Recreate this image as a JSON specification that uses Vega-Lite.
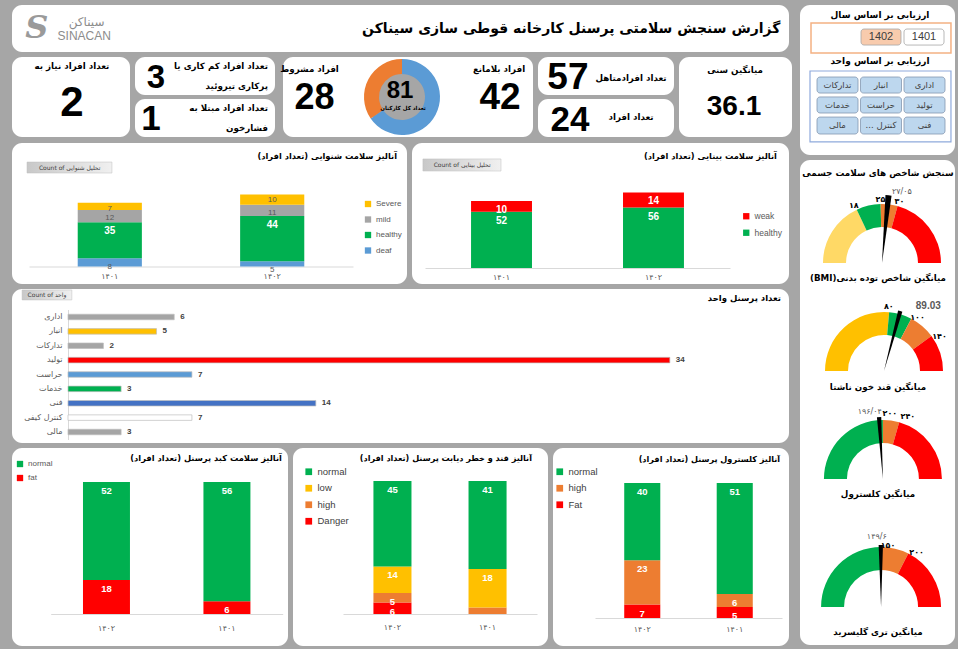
{
"$schema":"https://vega.github.io/schema/vega-lite/v6.json",
"background":"#A6A6A6",
"padding":{"left":12,"top":5,"right":6,"bottom":4},
"config":{"view":{"fill":"#FFFFFF","stroke":null,"cornerRadius":10},"font":"DejaVu Sans"},
"datasets":{
"kpi":[
{"key":"need","metric":"تعداد افراد نیاز به","value":2},
{"key":"thyroid","metric":"تعداد افراد کم کاری یا\nپرکاری تیروئید","value":3},
{"key":"bp","metric":"تعداد افراد مبتلا به\nفشارخون","value":1},
{"key":"conditional","metric":"افراد مشروط","value":28},
{"key":"total","metric":"تعداد کل کارکنان","value":81},
{"key":"fit","metric":"افراد بلامانع","value":42},
{"key":"married","metric":"تعداد افرادمتاهل","value":57},
{"key":"single","metric":"تعداد افراد","value":24},
{"key":"age","metric":"میانگین سنی","value":36.1}],
"donut":[{"status":"سایر","count":53},{"status":"مشروط","count":28}],
"hearing":[
{"year":"۱۴۰۱","status":"deaf","count":8},{"year":"۱۴۰۱","status":"healthy","count":35},{"year":"۱۴۰۱","status":"mild","count":12},{"year":"۱۴۰۱","status":"Severe","count":7},
{"year":"۱۴۰۲","status":"deaf","count":5},{"year":"۱۴۰۲","status":"healthy","count":44},{"year":"۱۴۰۲","status":"mild","count":11},{"year":"۱۴۰۲","status":"Severe","count":10}],
"vision":[{"year":"۱۴۰۱","status":"healthy","count":52},{"year":"۱۴۰۱","status":"weak","count":10},{"year":"۱۴۰۲","status":"healthy","count":56},{"year":"۱۴۰۲","status":"weak","count":14}],
"units":[{"unit":"اداری","count":6},{"unit":"انبار","count":5},{"unit":"تدارکات","count":2},{"unit":"تولید","count":34},{"unit":"حراست","count":7},{"unit":"خدمات","count":3},{"unit":"فنی","count":14},{"unit":"کنترل کیفی","count":7},{"unit":"مالی","count":3}],
"liver":[{"year":"۱۴۰۲","status":"fat","count":18},{"year":"۱۴۰۲","status":"normal","count":52},{"year":"۱۴۰۱","status":"fat","count":6},{"year":"۱۴۰۱","status":"normal","count":56}],
"sugar":[{"year":"۱۴۰۲","status":"Danger","count":6},{"year":"۱۴۰۲","status":"high","count":5},{"year":"۱۴۰۲","status":"low","count":14},{"year":"۱۴۰۲","status":"normal","count":45},{"year":"۱۴۰۱","status":"high","count":3},{"year":"۱۴۰۱","status":"low","count":18},{"year":"۱۴۰۱","status":"normal","count":41}],
"chol":[{"year":"۱۴۰۲","status":"Fat","count":7},{"year":"۱۴۰۲","status":"high","count":23},{"year":"۱۴۰۲","status":"normal","count":40},{"year":"۱۴۰۱","status":"Fat","count":5},{"year":"۱۴۰۱","status":"high","count":6},{"year":"۱۴۰۱","status":"normal","count":51}],
"years":[{"year":"1402"},{"year":"1401"}],
"gbands":[
{"gauge":"BMI","level":"underweight","from":0,"to":18},{"gauge":"BMI","level":"normal","from":18,"to":25},{"gauge":"BMI","level":"overweight","from":25,"to":30},{"gauge":"BMI","level":"obese","from":30,"to":52},
{"gauge":"sugar","level":"low","from":40,"to":80},{"gauge":"sugar","level":"normal","from":80,"to":100},{"gauge":"sugar","level":"high","from":100,"to":140},{"gauge":"sugar","level":"danger","from":140,"to":200},
{"gauge":"chol","level":"normal","from":100,"to":200},{"gauge":"chol","level":"high","from":200,"to":240},{"gauge":"chol","level":"danger","from":240,"to":300},
{"gauge":"trig","level":"normal","from":0,"to":150},{"gauge":"trig","level":"high","from":150,"to":200},{"gauge":"trig","level":"danger","from":200,"to":300}],
"gneedle":[{"gauge":"BMI","value":27.05,"label":"۲۷/۰۵"},{"gauge":"sugar","value":89.03,"label":"89.03"},{"gauge":"chol","value":196.04,"label":"۱۹۶/۰۴"},{"gauge":"trig","value":149.6,"label":"۱۴۹/۶"}],
"gticks":[{"gauge":"BMI","value":18,"label":"۱۸"},{"gauge":"BMI","value":25,"label":"۲۵"},{"gauge":"BMI","value":30,"label":"۳۰"},
{"gauge":"sugar","value":80,"label":"۸۰"},{"gauge":"sugar","value":100,"label":"۱۰۰"},{"gauge":"sugar","value":140,"label":"۱۴۰"},
{"gauge":"chol","value":200,"label":"۲۰۰"},{"gauge":"chol","value":240,"label":"۲۴۰"},
{"gauge":"trig","value":150,"label":"۱۵۰"},{"gauge":"trig","value":200,"label":"۲۰۰"}]
},
"spacing":8,
"resolve":{"scale":{"color":"independent"}},
"hconcat":[
{"vconcat":[
{"width":777,"height":47,"layer":[
{"data":{"values":[{}]},"mark":{"type":"text","text":"گزارش سنجش سلامتی پرسنل کارخانه قوطی سازی سیناکن","align":"right","fontSize":14,"fontWeight":"bold","color":"#000000"},"encoding":{"x":{"datum":98.9,"type":"quantitative","scale":{"domain":[0,100]},"axis":null},"y":{"datum":50,"type":"quantitative","scale":{"domain":[0,100],"reverse":true},"axis":null}}},
{"data":{"values":[{}]},"mark":{"type":"text","text":"S","font":"DejaVu Serif","fontSize":32,"fontWeight":"bold","fontStyle":"italic","color":"#9A9A9A"},"encoding":{"x":{"datum":3.2,"type":"quantitative","scale":{"domain":[0,100]},"axis":null},"y":{"datum":48,"type":"quantitative","scale":{"domain":[0,100],"reverse":true},"axis":null}}},
{"data":{"values":[{}]},"mark":{"type":"text","text":"سیناکن","fontSize":12,"color":"#8C8C8C"},"encoding":{"x":{"datum":9.6,"type":"quantitative","scale":{"domain":[0,100]},"axis":null},"y":{"datum":36,"type":"quantitative","scale":{"domain":[0,100],"reverse":true},"axis":null}}},
{"data":{"values":[{}]},"mark":{"type":"text","text":"SINACAN","font":"Liberation Sans","fontSize":12,"color":"#8C8C8C"},"encoding":{"x":{"datum":9.3,"type":"quantitative","scale":{"domain":[0,100]},"axis":null},"y":{"datum":66,"type":"quantitative","scale":{"domain":[0,100],"reverse":true},"axis":null}}}
]},
{"hconcat":[
{"width":118,"height":80,"data":{"name":"kpi"},"transform":[{"filter":"datum.key==='need'"}],"layer":[
{"mark":{"type":"text","fontSize":8.7,"fontWeight":"bold","color":"#000000"},"encoding":{"text":{"field":"metric","type":"nominal"},"x":{"datum":50.8,"type":"quantitative","scale":{"domain":[0,100]},"axis":null},"y":{"datum":11.5,"type":"quantitative","scale":{"domain":[0,100],"reverse":true},"axis":null}}},
{"mark":{"type":"text","fontSize":42,"fontWeight":"bold","font":"Liberation Sans","color":"#000000"},"encoding":{"text":{"field":"value","type":"nominal"},"x":{"datum":50.8,"type":"quantitative","scale":{"domain":[0,100]},"axis":null},"y":{"datum":58,"type":"quantitative","scale":{"domain":[0,100],"reverse":true},"axis":null}}}
]},
{"vconcat":[
{"width":140,"height":38,"data":{"name":"kpi"},"transform":[{"filter":"datum.key==='thyroid'"}],"layer":[
{"mark":{"type":"text","align":"right","fontSize":8.7,"fontWeight":"bold","lineBreak":"\n","lineHeight":20,"color":"#000000"},"encoding":{"text":{"field":"metric","type":"nominal"},"x":{"datum":95,"type":"quantitative","scale":{"domain":[0,100]},"axis":null},"y":{"datum":24,"type":"quantitative","scale":{"domain":[0,100],"reverse":true},"axis":null}}},
{"mark":{"type":"text","fontSize":33,"fontWeight":"bold","font":"Liberation Sans","color":"#000000"},"encoding":{"text":{"field":"value","type":"nominal"},"x":{"datum":15,"type":"quantitative","scale":{"domain":[0,100]},"axis":null},"y":{"datum":55,"type":"quantitative","scale":{"domain":[0,100],"reverse":true},"axis":null}}}
]},
{"width":140,"height":38,"data":{"name":"kpi"},"transform":[{"filter":"datum.key==='bp'"}],"layer":[
{"mark":{"type":"text","align":"right","fontSize":8.7,"fontWeight":"bold","lineBreak":"\n","lineHeight":20,"color":"#000000"},"encoding":{"text":{"field":"metric","type":"nominal"},"x":{"datum":95,"type":"quantitative","scale":{"domain":[0,100]},"axis":null},"y":{"datum":24,"type":"quantitative","scale":{"domain":[0,100],"reverse":true},"axis":null}}},
{"mark":{"type":"text","fontSize":35,"fontWeight":"bold","font":"Liberation Sans","color":"#000000"},"encoding":{"text":{"field":"value","type":"nominal"},"x":{"datum":11.4,"type":"quantitative","scale":{"domain":[0,100]},"axis":null},"y":{"datum":53,"type":"quantitative","scale":{"domain":[0,100],"reverse":true},"axis":null}}}
]}
],"spacing":4,"bounds":"flush"},
{"width":250,"height":80,"layer":[
{"data":{"name":"kpi"},"transform":[{"filter":"datum.key==='conditional'"}],"layer":[
{"mark":{"type":"text","fontSize":8.7,"fontWeight":"bold","color":"#000000"},"encoding":{"text":{"field":"metric","type":"nominal"},"x":{"datum":10.6,"type":"quantitative","scale":{"domain":[0,100]},"axis":null},"y":{"datum":15,"type":"quantitative","scale":{"domain":[0,100],"reverse":true},"axis":null}}},
{"mark":{"type":"text","fontSize":36,"fontWeight":"bold","font":"Liberation Sans","color":"#000000"},"encoding":{"text":{"field":"value","type":"nominal"},"x":{"datum":12.6,"type":"quantitative","scale":{"domain":[0,100]},"axis":null},"y":{"datum":51.5,"type":"quantitative","scale":{"domain":[0,100],"reverse":true},"axis":null}}}]},
{"data":{"name":"kpi"},"transform":[{"filter":"datum.key==='fit'"}],"layer":[
{"mark":{"type":"text","fontSize":8.7,"fontWeight":"bold","color":"#000000"},"encoding":{"text":{"field":"metric","type":"nominal"},"x":{"datum":86.4,"type":"quantitative","scale":{"domain":[0,100]},"axis":null},"y":{"datum":15,"type":"quantitative","scale":{"domain":[0,100],"reverse":true},"axis":null}}},
{"mark":{"type":"text","fontSize":37,"fontWeight":"bold","font":"Liberation Sans","color":"#000000"},"encoding":{"text":{"field":"value","type":"nominal"},"x":{"datum":86.8,"type":"quantitative","scale":{"domain":[0,100]},"axis":null},"y":{"datum":51.5,"type":"quantitative","scale":{"domain":[0,100],"reverse":true},"axis":null}}}]},
{"data":{"values":[{}]},"mark":{"type":"circle","size":5027,"color":"#A6A6A6","opacity":1},"encoding":{"x":{"datum":47.6,"type":"quantitative","scale":{"domain":[0,100]},"axis":null},"y":{"datum":50,"type":"quantitative","scale":{"domain":[0,100],"reverse":true},"axis":null}}},
{"data":{"name":"donut"},"transform":[{"window":[{"op":"row_number","as":"idx"}]}],"mark":{"type":"arc","outerRadius":38,"innerRadius":23},"encoding":{"theta":{"field":"count","type":"quantitative","stack":true},"order":{"field":"idx","type":"quantitative"},"color":{"field":"status","type":"nominal","scale":{"domain":["سایر","مشروط"],"range":["#5B9BD5","#ED7D31"]},"legend":null},"x":{"datum":47.6,"type":"quantitative","scale":{"domain":[0,100]},"axis":null},"y":{"datum":50,"type":"quantitative","scale":{"domain":[0,100],"reverse":true},"axis":null}}},
{"data":{"name":"kpi"},"transform":[{"filter":"datum.key==='total'"}],"layer":[
{"mark":{"type":"text","fontSize":24,"fontWeight":"bold","font":"Liberation Sans","color":"#000000"},"encoding":{"text":{"field":"value","type":"nominal"},"x":{"datum":46.8,"type":"quantitative","scale":{"domain":[0,100]},"axis":null},"y":{"datum":43,"type":"quantitative","scale":{"domain":[0,100],"reverse":true},"axis":null}}},
{"mark":{"type":"text","fontSize":5.5,"fontWeight":"bold","color":"#000000"},"encoding":{"text":{"field":"metric","type":"nominal"},"x":{"datum":48,"type":"quantitative","scale":{"domain":[0,100]},"axis":null},"y":{"datum":64,"type":"quantitative","scale":{"domain":[0,100],"reverse":true},"axis":null}}}]}
]},
{"vconcat":[
{"width":136,"height":38,"data":{"name":"kpi"},"transform":[{"filter":"datum.key==='married'"}],"layer":[
{"mark":{"type":"text","fontSize":8.7,"fontWeight":"bold","color":"#000000"},"encoding":{"text":{"field":"metric","type":"nominal"},"x":{"datum":68.4,"type":"quantitative","scale":{"domain":[0,100]},"axis":null},"y":{"datum":55.3,"type":"quantitative","scale":{"domain":[0,100],"reverse":true},"axis":null}}},
{"mark":{"type":"text","fontSize":37,"fontWeight":"bold","font":"Liberation Sans","color":"#000000"},"encoding":{"text":{"field":"value","type":"nominal"},"x":{"datum":22,"type":"quantitative","scale":{"domain":[0,100]},"axis":null},"y":{"datum":54,"type":"quantitative","scale":{"domain":[0,100],"reverse":true},"axis":null}}}]},
{"width":136,"height":38,"data":{"name":"kpi"},"transform":[{"filter":"datum.key==='single'"}],"layer":[
{"mark":{"type":"text","fontSize":8.7,"fontWeight":"bold","color":"#000000"},"encoding":{"text":{"field":"metric","type":"nominal"},"x":{"datum":68.4,"type":"quantitative","scale":{"domain":[0,100]},"axis":null},"y":{"datum":47.4,"type":"quantitative","scale":{"domain":[0,100],"reverse":true},"axis":null}}},
{"mark":{"type":"text","fontSize":35,"fontWeight":"bold","font":"Liberation Sans","color":"#000000"},"encoding":{"text":{"field":"value","type":"nominal"},"x":{"datum":23.5,"type":"quantitative","scale":{"domain":[0,100]},"axis":null},"y":{"datum":54,"type":"quantitative","scale":{"domain":[0,100],"reverse":true},"axis":null}}}]}
],"spacing":4,"bounds":"flush"},
{"width":113,"height":80,"data":{"name":"kpi"},"transform":[{"filter":"datum.key==='age'"}],"layer":[
{"mark":{"type":"text","fontSize":8.7,"fontWeight":"bold","color":"#000000"},"encoding":{"text":{"field":"metric","type":"nominal"},"x":{"datum":49.6,"type":"quantitative","scale":{"domain":[0,100]},"axis":null},"y":{"datum":16.25,"type":"quantitative","scale":{"domain":[0,100],"reverse":true},"axis":null}}},
{"mark":{"type":"text","fontSize":28,"fontWeight":"bold","font":"Liberation Sans","color":"#000000"},"encoding":{"text":{"field":"value","type":"nominal"},"x":{"datum":48.7,"type":"quantitative","scale":{"domain":[0,100]},"axis":null},"y":{"datum":62.5,"type":"quantitative","scale":{"domain":[0,100],"reverse":true},"axis":null}}}]}
],"spacing":5,"resolve":{"scale":{"color":"independent"}}},
{"hconcat":[
{"width":395,"height":141,"resolve":{"scale":{"x":"independent","y":"independent"}},"layer":[
{"data":{"name":"hearing"},"transform":[{"window":[{"op":"row_number","as":"idx"}]}],
"encoding":{
"x":{"field":"year","type":"nominal","scale":{"domain":["۱۴۰۱","۱۴۰۲"],"range":[17,341],"paddingInner":0.605,"paddingOuter":0.3},"axis":{"title":null,"offset":-17.5,"ticks":false,"tickSize":0,"labelPadding":6,"labelFontSize":8,"labelColor":"#595959","domainColor":"#D9D9D9","labelAngle":0}},
"y":{"field":"count","type":"quantitative","stack":"zero","scale":{"domain":[-17,120],"nice":false,"zero":false},"axis":null},
"order":{"field":"idx","type":"quantitative"},
"detail":{"field":"status","type":"nominal"}},
"layer":[
{"mark":{"type":"bar"},"encoding":{"color":{"field":"status","type":"nominal","scale":{"domain":["Severe","mild","healthy","deaf"],"range":["#FFC000","#A5A5A5","#00B050","#5B9BD5"]},"legend":{"title":null,"orient":"none","legendX":352,"legendY":57,"symbolType":"square","symbolSize":40,"labelFont":"Liberation Sans","labelFontSize":8,"labelColor":"#595959","rowPadding":7.5}}}},
{"mark":{"type":"text","dy":9,"fontSize":10,"fontWeight":"bold","color":"#FFFFFF","font":"Liberation Sans"},"encoding":{"text":{"condition":{"test":"datum.status!=='healthy'","value":""},"field":"count","type":"quantitative"}}},
{"mark":{"type":"text","dy":6,"fontSize":8,"color":"#595959","font":"Liberation Sans"},"encoding":{"text":{"condition":{"test":"datum.status!=='Severe'","value":""},"field":"count","type":"quantitative"}}},
{"mark":{"type":"text","dy":8.5,"fontSize":8,"color":"#595959","font":"Liberation Sans"},"encoding":{"text":{"condition":{"test":"datum.status==='healthy' || datum.status==='Severe'","value":""},"field":"count","type":"quantitative"}}}
]},
{"data":{"values":[{}]},"mark":{"type":"text","text":"‫آنالیز سلامت شنوایی (تعداد افراد)‬","align":"right","fontSize":8.3,"fontWeight":"bold","color":"#000000"},"encoding":{"x":{"datum":97.47,"type":"quantitative","scale":{"domain":[0,100]},"axis":null},"y":{"datum":9.93,"type":"quantitative","scale":{"domain":[0,100],"reverse":true},"axis":null}}},
{"data":{"values":[{}]},"mark":{"type":"rect","fill":{"gradient":"linear","x1":0,"y1":0,"x2":1,"y2":0,"stops":[{"offset":0,"color":"#C8C8C8"},{"offset":1,"color":"#F0F0F0"}]},"stroke":"#BFBFBF","strokeWidth":0.5},"encoding":{"x":{"datum":3.8,"type":"quantitative","scale":{"domain":[0,100]},"axis":null},"x2":{"datum":25.3},"y":{"datum":13.5,"type":"quantitative","scale":{"domain":[0,100],"reverse":true},"axis":null},"y2":{"datum":21.3}}},
{"data":{"values":[{}]},"mark":{"type":"text","text":"Count of تحلیل شنوایی","fontSize":6,"color":"#404040"},"encoding":{"x":{"datum":14.6,"type":"quantitative","scale":{"domain":[0,100]},"axis":null},"y":{"datum":17.4,"type":"quantitative","scale":{"domain":[0,100],"reverse":true},"axis":null}}}
]},
{"width":377,"height":141,"resolve":{"scale":{"x":"independent","y":"independent"}},"layer":[
{"data":{"name":"vision"},"transform":[{"window":[{"op":"row_number","as":"idx"}]}],
"encoding":{
"x":{"field":"year","type":"nominal","scale":{"domain":["۱۴۰۱","۱۴۰۲"],"range":[13,318],"paddingInner":0.599,"paddingOuter":0.303},"axis":{"title":null,"offset":-16,"ticks":false,"tickSize":0,"labelPadding":5,"labelFontSize":8,"labelColor":"#595959","domainColor":"#D9D9D9","labelAngle":0}},
"y":{"field":"count","type":"quantitative","stack":"zero","scale":{"domain":[-14.8,115.7],"nice":false,"zero":false},"axis":null},
"order":{"field":"idx","type":"quantitative"},
"detail":{"field":"status","type":"nominal"}},
"layer":[
{"mark":{"type":"bar"},"encoding":{"color":{"field":"status","type":"nominal","scale":{"domain":["weak","healthy"],"range":["#FF0000","#00B050"]},"legend":{"title":null,"orient":"none","legendX":330,"legendY":69,"symbolType":"square","symbolSize":40,"labelFont":"Liberation Sans","labelFontSize":8.5,"labelColor":"#595959","rowPadding":7.5}}}},
{"mark":{"type":"text","dy":9,"fontSize":10,"fontWeight":"bold","color":"#FFFFFF","font":"Liberation Sans"},"encoding":{"text":{"field":"count","type":"quantitative"}}}
]},
{"data":{"values":[{}]},"mark":{"type":"text","text":"‫آنالیز سلامت بینایی (تعداد افراد)‬","align":"right","fontSize":8.3,"fontWeight":"bold","color":"#000000"},"encoding":{"x":{"datum":96.8,"type":"quantitative","scale":{"domain":[0,100]},"axis":null},"y":{"datum":9.93,"type":"quantitative","scale":{"domain":[0,100],"reverse":true},"axis":null}}},
{"data":{"values":[{}]},"mark":{"type":"rect","fill":{"gradient":"linear","x1":0,"y1":0,"x2":1,"y2":0,"stops":[{"offset":0,"color":"#C8C8C8"},{"offset":1,"color":"#F0F0F0"}]},"stroke":"#BFBFBF","strokeWidth":0.5},"encoding":{"x":{"datum":2.9,"type":"quantitative","scale":{"domain":[0,100]},"axis":null},"x2":{"datum":23.6},"y":{"datum":11.3,"type":"quantitative","scale":{"domain":[0,100],"reverse":true},"axis":null},"y2":{"datum":19.9}}},
{"data":{"values":[{}]},"mark":{"type":"text","text":"Count of تحلیل بینایی","fontSize":6,"color":"#404040"},"encoding":{"x":{"datum":13.3,"type":"quantitative","scale":{"domain":[0,100]},"axis":null},"y":{"datum":15.6,"type":"quantitative","scale":{"domain":[0,100],"reverse":true},"axis":null}}}
]}
],"spacing":5,"bounds":"flush","resolve":{"scale":{"color":"independent"}}},
{"width":777,"height":154,"resolve":{"scale":{"x":"independent","y":"independent"}},"layer":[
{"data":{"name":"units"},
"encoding":{
"y":{"field":"unit","type":"nominal","scale":{"domain":["اداری","انبار","تدارکات","تولید","حراست","خدمات","فنی","کنترل کیفی","مالی"],"range":[20.5,150.5],"paddingInner":0.617,"paddingOuter":0.33},"axis":{"title":null,"offset":-56,"ticks":false,"tickSize":0,"labelPadding":6,"labelFontSize":8,"labelColor":"#595959","domainColor":"#D9D9D9"}},
"x":{"field":"count","type":"quantitative","scale":{"domain":[-3.164,40.73],"nice":false,"zero":false},"axis":null}},
"layer":[
{"mark":{"type":"bar","stroke":"#BFBFBF","strokeWidth":0.7},"encoding":{"color":{"field":"unit","type":"nominal","scale":{"domain":["اداری","انبار","تدارکات","تولید","حراست","خدمات","فنی","کنترل کیفی","مالی"],"range":["#A5A5A5","#FFC000","#A5A5A5","#FF0000","#5B9BD5","#00B050","#4472C4","#FFFFFF","#A5A5A5"]},"legend":null}}},
{"mark":{"type":"text","align":"left","dx":6,"fontSize":8,"fontWeight":"bold","color":"#404040","font":"Liberation Sans"},"encoding":{"text":{"field":"count","type":"quantitative"}}}
]},
{"data":{"values":[{}]},"mark":{"type":"text","text":"تعداد پرسنل واحد","align":"right","fontSize":8.5,"fontWeight":"bold","color":"#000000"},"encoding":{"x":{"datum":98.97,"type":"quantitative","scale":{"domain":[0,100]},"axis":null},"y":{"datum":5.6,"type":"quantitative","scale":{"domain":[0,100],"reverse":true},"axis":null}}},
{"data":{"values":[{}]},"mark":{"type":"rect","fill":{"gradient":"linear","x1":0,"y1":0,"x2":1,"y2":0,"stops":[{"offset":0,"color":"#C8C8C8"},{"offset":1,"color":"#F0F0F0"}]},"stroke":"#BFBFBF","strokeWidth":0.5},"encoding":{"x":{"datum":1.3,"type":"quantitative","scale":{"domain":[0,100]},"axis":null},"x2":{"datum":7.7},"y":{"datum":0.6,"type":"quantitative","scale":{"domain":[0,100],"reverse":true},"axis":null},"y2":{"datum":7.1}}},
{"data":{"values":[{}]},"mark":{"type":"text","text":"Count of واحد","fontSize":6,"color":"#404040"},"encoding":{"x":{"datum":4.5,"type":"quantitative","scale":{"domain":[0,100]},"axis":null},"y":{"datum":3.9,"type":"quantitative","scale":{"domain":[0,100],"reverse":true},"axis":null}}}
]},
{"hconcat":[
{"width":276,"height":198,"resolve":{"scale":{"x":"independent","y":"independent"}},"layer":[
{"data":{"name":"liver"},"transform":[{"window":[{"op":"row_number","as":"idx"}]}],
"encoding":{
"x":{"field":"year","type":"nominal","scale":{"domain":["۱۴۰۲","۱۴۰۱"],"range":[38.7,270.7],"paddingInner":0.61,"paddingOuter":0.268},"axis":{"title":null,"offset":-32,"ticks":false,"tickSize":0,"labelPadding":10,"labelFontSize":8,"labelColor":"#595959","domainColor":"#D9D9D9","labelAngle":0}},
"y":{"field":"count","type":"quantitative","stack":"normalize","scale":{"domain":[-0.2424,1.2576],"nice":false,"zero":false},"axis":null},
"order":{"field":"idx","type":"quantitative"},
"detail":{"field":"status","type":"nominal"}},
"layer":[
{"mark":{"type":"bar"},"encoding":{"color":{"field":"status","type":"nominal","scale":{"domain":["normal","fat"],"range":["#00B050","#FF0000"]},"legend":{"title":null,"orient":"none","legendX":4,"legendY":12,"symbolType":"square","symbolSize":40,"labelFont":"Liberation Sans","labelFontSize":8,"labelColor":"#595959","rowPadding":6}}}},
{"mark":{"type":"text","dy":9,"fontSize":9.5,"fontWeight":"bold","color":"#FFFFFF","font":"Liberation Sans"},"encoding":{"text":{"field":"count","type":"quantitative"}}}
]},
{"data":{"values":[{}]},"mark":{"type":"text","text":"‫آنالیز سلامت کبد پرسنل (تعداد افراد)‬","align":"right","fontSize":8.3,"fontWeight":"bold","color":"#000000"},"encoding":{"x":{"datum":97.8,"type":"quantitative","scale":{"domain":[0,100]},"axis":null},"y":{"datum":5.6,"type":"quantitative","scale":{"domain":[0,100],"reverse":true},"axis":null}}}
]},
{"width":255,"height":198,"resolve":{"scale":{"x":"independent","y":"independent"}},"layer":[
{"data":{"name":"sugar"},"transform":[{"window":[{"op":"row_number","as":"idx"}]}],
"encoding":{
"x":{"field":"year","type":"nominal","scale":{"domain":["۱۴۰۲","۱۴۰۱"],"range":[50,244],"paddingInner":0.6,"paddingOuter":0.32},"axis":{"title":null,"offset":-32,"ticks":false,"tickSize":0,"labelPadding":9.5,"labelFontSize":8,"labelColor":"#595959","domainColor":"#D9D9D9","labelAngle":0}},
"y":{"field":"count","type":"quantitative","stack":"normalize","scale":{"domain":[-0.2406,1.2481],"nice":false,"zero":false},"axis":null},
"order":{"field":"idx","type":"quantitative"},
"detail":{"field":"status","type":"nominal"}},
"layer":[
{"mark":{"type":"bar"},"encoding":{"color":{"field":"status","type":"nominal","scale":{"domain":["normal","low","high","Danger"],"range":["#00B050","#FFC000","#ED7D31","#FF0000"]},"legend":{"title":null,"orient":"none","legendX":11,"legendY":19,"symbolType":"square","symbolSize":45,"labelFont":"Liberation Sans","labelFontSize":9.5,"labelColor":"#404040","rowPadding":5.5}}}},
{"mark":{"type":"text","dy":9,"fontSize":9.5,"fontWeight":"bold","color":"#FFFFFF","font":"Liberation Sans"},"encoding":{"text":{"condition":{"test":"datum.count<4","value":""},"field":"count","type":"quantitative"}}}
]},
{"data":{"values":[{}]},"mark":{"type":"text","text":"‫آنالیز قند و خطر دیابت پرسنل (تعداد افراد)‬","align":"right","fontSize":8.1,"fontWeight":"bold","color":"#000000"},"encoding":{"x":{"datum":93.7,"type":"quantitative","scale":{"domain":[0,100]},"axis":null},"y":{"datum":5.6,"type":"quantitative","scale":{"domain":[0,100],"reverse":true},"axis":null}}}
]},
{"width":236,"height":198,"resolve":{"scale":{"x":"independent","y":"independent"}},"layer":[
{"data":{"name":"chol"},"transform":[{"window":[{"op":"row_number","as":"idx"}]}],
"encoding":{
"x":{"field":"year","type":"nominal","scale":{"domain":["۱۴۰۲","۱۴۰۱"],"range":[42,229],"paddingInner":0.61,"paddingOuter":0.316},"axis":{"title":null,"offset":-28,"ticks":false,"tickSize":0,"labelPadding":7,"labelFontSize":8,"labelColor":"#595959","domainColor":"#D9D9D9","labelAngle":0}},
"y":{"field":"count","type":"quantitative","stack":"normalize","scale":{"domain":[-0.2074,1.2593],"nice":false,"zero":false},"axis":null},
"order":{"field":"idx","type":"quantitative"},
"detail":{"field":"status","type":"nominal"}},
"layer":[
{"mark":{"type":"bar"},"encoding":{"color":{"field":"status","type":"nominal","scale":{"domain":["normal","high","Fat"],"range":["#00B050","#ED7D31","#FF0000"]},"legend":{"title":null,"orient":"none","legendX":2,"legendY":19,"symbolType":"square","symbolSize":45,"labelFont":"Liberation Sans","labelFontSize":9.5,"labelColor":"#404040","rowPadding":5.5}}}},
{"mark":{"type":"text","dy":9,"fontSize":9.5,"fontWeight":"bold","color":"#FFFFFF","font":"Liberation Sans"},"encoding":{"text":{"field":"count","type":"quantitative"}}}
]},
{"data":{"values":[{}]},"mark":{"type":"text","text":"‫آنالیز کلسترول پرسنل (تعداد افراد)‬","align":"right","fontSize":8.1,"fontWeight":"bold","color":"#000000"},"encoding":{"x":{"datum":96.2,"type":"quantitative","scale":{"domain":[0,100]},"axis":null},"y":{"datum":6.06,"type":"quantitative","scale":{"domain":[0,100],"reverse":true},"axis":null}}}
]}
],"spacing":5,"bounds":"flush","resolve":{"scale":{"color":"independent"}}}
],"spacing":5,"resolve":{"scale":{"color":"independent"}}},
{"vconcat":[
{"width":155,"height":150,"resolve":{"scale":{"x":"independent"}},"layer":[
{"data":{"values":[{}]},"mark":{"type":"text","text":"ارزیابی بر اساس سال","fontSize":9,"fontWeight":"bold","color":"#000000"},"encoding":{"x":{"datum":51.6,"type":"quantitative","scale":{"domain":[0,100]},"axis":null},"y":{"datum":6.7,"type":"quantitative","scale":{"domain":[0,100],"reverse":true},"axis":null}}},
{"data":{"values":[{}]},"mark":{"type":"rect","filled":false,"color":"#F4B183","strokeWidth":1.5},"encoding":{"x":{"datum":7.1,"type":"quantitative","scale":{"domain":[0,100]},"axis":null},"x2":{"datum":97.4},"y":{"datum":12,"type":"quantitative","scale":{"domain":[0,100],"reverse":true},"axis":null},"y2":{"datum":32}}},
{"data":{"name":"years"},"encoding":{"x":{"field":"year","type":"nominal","scale":{"domain":["1402","1401"],"range":[61,144],"paddingInner":0.07,"paddingOuter":0},"axis":null}},"layer":[
{"mark":{"type":"rect","stroke":"#A6A6A6","strokeWidth":0.8,"cornerRadius":3},"encoding":{"y":{"datum":16,"type":"quantitative","scale":{"domain":[0,100],"reverse":true},"axis":null},"y2":{"datum":26.7},"color":{"condition":{"test":"datum.year==='1402'","value":"#F8CBAD"},"value":"#FFFFFF"}}},
{"mark":{"type":"text","fontSize":11,"font":"Liberation Sans","color":"#404040"},"encoding":{"y":{"datum":21.3,"type":"quantitative","scale":{"domain":[0,100],"reverse":true},"axis":null},"text":{"field":"year","type":"nominal"}}}]},
{"data":{"values":[{}]},"mark":{"type":"text","text":"ارزیابی بر اساس واحد","fontSize":9,"fontWeight":"bold","color":"#000000"},"encoding":{"x":{"datum":51.6,"type":"quantitative","scale":{"domain":[0,100]},"axis":null},"y":{"datum":37.3,"type":"quantitative","scale":{"domain":[0,100],"reverse":true},"axis":null}}},
{"data":{"values":[{}]},"mark":{"type":"rect","filled":false,"color":"#8FAADC","strokeWidth":1.2},"encoding":{"x":{"datum":6.45,"type":"quantitative","scale":{"domain":[0,100]},"axis":null},"x2":{"datum":97.4},"y":{"datum":44,"type":"quantitative","scale":{"domain":[0,100],"reverse":true},"axis":null},"y2":{"datum":91.3}}},
{"data":{"name":"units"},"transform":[{"filter":{"field":"unit","oneOf":["تدارکات","انبار","اداری"]}}],"encoding":{"x":{"field":"unit","type":"nominal","scale":{"domain":["تدارکات","انبار","اداری"],"range":[17,145],"paddingInner":0.057,"paddingOuter":0},"axis":null}},"layer":[
{"mark":{"type":"rect","color":"#BDD7EE","stroke":"#8497B0","strokeWidth":0.8,"cornerRadius":3},"encoding":{"y":{"datum":48,"type":"quantitative","scale":{"domain":[0,100],"reverse":true},"axis":null},"y2":{"datum":58.7}}},
{"mark":{"type":"text","fontSize":8.5,"color":"#404040","limit":36,"ellipsis":"...‏"},"encoding":{"y":{"datum":53.3,"type":"quantitative","scale":{"domain":[0,100],"reverse":true},"axis":null},"text":{"field":"unit","type":"nominal"}}}]},
{"data":{"name":"units"},"transform":[{"filter":{"field":"unit","oneOf":["خدمات","حراست","تولید"]}}],"encoding":{"x":{"field":"unit","type":"nominal","scale":{"domain":["خدمات","حراست","تولید"],"range":[17,145],"paddingInner":0.057,"paddingOuter":0},"axis":null}},"layer":[
{"mark":{"type":"rect","color":"#BDD7EE","stroke":"#8497B0","strokeWidth":0.8,"cornerRadius":3},"encoding":{"y":{"datum":61.3,"type":"quantitative","scale":{"domain":[0,100],"reverse":true},"axis":null},"y2":{"datum":72}}},
{"mark":{"type":"text","fontSize":8.5,"color":"#404040","limit":36,"ellipsis":"...‏"},"encoding":{"y":{"datum":66.7,"type":"quantitative","scale":{"domain":[0,100],"reverse":true},"axis":null},"text":{"field":"unit","type":"nominal"}}}]},
{"data":{"name":"units"},"transform":[{"filter":{"field":"unit","oneOf":["مالی","کنترل کیفی","فنی"]}}],"encoding":{"x":{"field":"unit","type":"nominal","scale":{"domain":["مالی","کنترل کیفی","فنی"],"range":[17,145],"paddingInner":0.057,"paddingOuter":0},"axis":null}},"layer":[
{"mark":{"type":"rect","color":"#BDD7EE","stroke":"#8497B0","strokeWidth":0.8,"cornerRadius":3},"encoding":{"y":{"datum":74.7,"type":"quantitative","scale":{"domain":[0,100],"reverse":true},"axis":null},"y2":{"datum":86}}},
{"mark":{"type":"text","fontSize":8.5,"color":"#404040","limit":36,"ellipsis":"...‏"},"encoding":{"y":{"datum":80.3,"type":"quantitative","scale":{"domain":[0,100],"reverse":true},"axis":null},"text":{"field":"unit","type":"nominal"}}}]}
]},
{"width":155,"height":485,"resolve":{"scale":{"theta":"independent"}},"layer":[
{"data":{"values":[{}]},"mark":{"type":"text","text":"سنجش شاخص های سلامت جسمی","fontSize":8.8,"fontWeight":"bold","color":"#000000"},"encoding":{"x":{"datum":50.3,"type":"quantitative","scale":{"domain":[0,100]},"axis":null},"y":{"datum":2.7,"type":"quantitative","scale":{"domain":[0,100],"reverse":true},"axis":null}}},
{"layer":[
{"data":{"name":"gbands"},"transform":[{"filter":"datum.gauge==='BMI'"}],"mark":{"type":"arc","outerRadius":59,"innerRadius":36},"encoding":{"theta":{"field":"from","type":"quantitative","stack":null,"scale":{"type":"linear","domain":[0,18,25,30,52],"range":[-1.5708,-0.4416,-0.0227,0.267,1.5708],"zero":false,"nice":false}},"theta2":{"field":"to"},"color":{"field":"level","type":"nominal","scale":{"domain":["underweight","low","normal","overweight","high","obese","danger"],"range":["#FFD966","#FFC000","#00B050","#ED7D31","#ED7D31","#FF0000","#FF0000"]},"legend":null},"x":{"datum":52.9,"type":"quantitative","scale":{"domain":[0,100]},"axis":null},"y":{"datum":21.24,"type":"quantitative","scale":{"domain":[0,100],"reverse":true},"axis":null}}},
{"data":{"name":"gneedle"},"transform":[{"filter":"datum.gauge==='BMI'"}],"mark":{"type":"arc","outerRadius":68,"innerRadius":0,"thetaOffset":-0.045,"theta2Offset":0.045,"color":"#000000"},"encoding":{"theta":{"field":"value","type":"quantitative","stack":null,"scale":{"type":"linear","domain":[0,18,25,30,52],"range":[-1.5708,-0.4416,-0.0227,0.267,1.5708],"zero":false,"nice":false}},"theta2":{"field":"value"},"x":{"datum":52.9,"type":"quantitative","scale":{"domain":[0,100]},"axis":null},"y":{"datum":21.24,"type":"quantitative","scale":{"domain":[0,100],"reverse":true},"axis":null}}},
{"data":{"name":"gneedle"},"transform":[{"filter":"datum.gauge==='BMI'"}],"mark":{"type":"text","radius":72,"dx":13,"dy":1,"fontSize":8,"color":"#595959"},"encoding":{"theta":{"field":"value","type":"quantitative","stack":null,"scale":{"type":"linear","domain":[0,18,25,30,52],"range":[-1.5708,-0.4416,-0.0227,0.267,1.5708],"zero":false,"nice":false}},"text":{"field":"label","type":"nominal"},"x":{"datum":52.9,"type":"quantitative","scale":{"domain":[0,100]},"axis":null},"y":{"datum":21.24,"type":"quantitative","scale":{"domain":[0,100],"reverse":true},"axis":null}}},
{"data":{"name":"gticks"},"transform":[{"filter":"datum.gauge==='BMI'"}],"mark":{"type":"text","radius":66,"dx":0,"dy":3,"fontSize":8,"fontWeight":"bold","color":"#000000"},"encoding":{"theta":{"field":"value","type":"quantitative","stack":null,"scale":{"type":"linear","domain":[0,18,25,30,52],"range":[-1.5708,-0.4416,-0.0227,0.267,1.5708],"zero":false,"nice":false}},"text":{"field":"label","type":"nominal"},"x":{"datum":52.9,"type":"quantitative","scale":{"domain":[0,100]},"axis":null},"y":{"datum":21.24,"type":"quantitative","scale":{"domain":[0,100],"reverse":true},"axis":null}}},
{"data":{"values":[{}]},"mark":{"type":"text","text":"‫میانگین شاخص توده بدنی(BMI)‬","fontSize":8.7,"fontWeight":"bold","color":"#000000"},"encoding":{"x":{"datum":50.3,"type":"quantitative","scale":{"domain":[0,100]},"axis":null},"y":{"datum":24.3,"type":"quantitative","scale":{"domain":[0,100],"reverse":true},"axis":null}}}
]},
{"layer":[
{"data":{"name":"gbands"},"transform":[{"filter":"datum.gauge==='sugar'"}],"mark":{"type":"arc","outerRadius":59,"innerRadius":36},"encoding":{"theta":{"field":"from","type":"quantitative","stack":null,"scale":{"type":"linear","domain":[40,80,100,140,200],"range":[-1.5708,0.0873,0.48,0.934,1.5708],"zero":false,"nice":false}},"theta2":{"field":"to"},"color":{"field":"level","type":"nominal","scale":{"domain":["underweight","low","normal","overweight","high","obese","danger"],"range":["#FFD966","#FFC000","#00B050","#ED7D31","#ED7D31","#FF0000","#FF0000"]},"legend":null},"x":{"datum":54.2,"type":"quantitative","scale":{"domain":[0,100]},"axis":null},"y":{"datum":43.5,"type":"quantitative","scale":{"domain":[0,100],"reverse":true},"axis":null}}},
{"data":{"name":"gneedle"},"transform":[{"filter":"datum.gauge==='sugar'"}],"mark":{"type":"arc","outerRadius":62,"innerRadius":0,"thetaOffset":-0.035,"theta2Offset":0.035,"color":"#000000"},"encoding":{"theta":{"field":"value","type":"quantitative","stack":null,"scale":{"type":"linear","domain":[40,80,100,140,200],"range":[-1.5708,0.0873,0.48,0.934,1.5708],"zero":false,"nice":false}},"theta2":{"field":"value"},"x":{"datum":54.2,"type":"quantitative","scale":{"domain":[0,100]},"axis":null},"y":{"datum":43.5,"type":"quantitative","scale":{"domain":[0,100],"reverse":true},"axis":null}}},
{"data":{"name":"gneedle"},"transform":[{"filter":"datum.gauge==='sugar'"}],"mark":{"type":"text","radius":70,"dx":26,"dy":3,"fontSize":10,"fontWeight":"bold","font":"Liberation Sans","color":"#595959"},"encoding":{"theta":{"field":"value","type":"quantitative","stack":null,"scale":{"type":"linear","domain":[40,80,100,140,200],"range":[-1.5708,0.0873,0.48,0.934,1.5708],"zero":false,"nice":false}},"text":{"field":"label","type":"nominal"},"x":{"datum":54.2,"type":"quantitative","scale":{"domain":[0,100]},"axis":null},"y":{"datum":43.5,"type":"quantitative","scale":{"domain":[0,100],"reverse":true},"axis":null}}},
{"data":{"name":"gticks"},"transform":[{"filter":"datum.gauge==='sugar' && datum.value===80"}],"mark":{"type":"text","radius":66,"dx":-1,"dy":2,"fontSize":8,"fontWeight":"bold","color":"#000000"},"encoding":{"theta":{"field":"value","type":"quantitative","stack":null,"scale":{"type":"linear","domain":[40,80,100,140,200],"range":[-1.5708,0.0873,0.48,0.934,1.5708],"zero":false,"nice":false}},"text":{"field":"label","type":"nominal"},"x":{"datum":54.2,"type":"quantitative","scale":{"domain":[0,100]},"axis":null},"y":{"datum":43.5,"type":"quantitative","scale":{"domain":[0,100],"reverse":true},"axis":null}}},
{"data":{"name":"gticks"},"transform":[{"filter":"datum.gauge==='sugar' && datum.value>80"}],"mark":{"type":"text","radius":64,"dx":4,"dy":4,"fontSize":8,"fontWeight":"bold","color":"#000000"},"encoding":{"theta":{"field":"value","type":"quantitative","stack":null,"scale":{"type":"linear","domain":[40,80,100,140,200],"range":[-1.5708,0.0873,0.48,0.934,1.5708],"zero":false,"nice":false}},"text":{"field":"label","type":"nominal"},"x":{"datum":54.2,"type":"quantitative","scale":{"domain":[0,100]},"axis":null},"y":{"datum":43.5,"type":"quantitative","scale":{"domain":[0,100],"reverse":true},"axis":null}}},
{"data":{"values":[{}]},"mark":{"type":"text","text":"میانگین قند خون ناشتا","fontSize":8.7,"fontWeight":"bold","color":"#000000"},"encoding":{"x":{"datum":50.3,"type":"quantitative","scale":{"domain":[0,100]},"axis":null},"y":{"datum":46.8,"type":"quantitative","scale":{"domain":[0,100],"reverse":true},"axis":null}}}
]},
{"layer":[
{"data":{"name":"gbands"},"transform":[{"filter":"datum.gauge==='chol'"}],"mark":{"type":"arc","outerRadius":59,"innerRadius":36},"encoding":{"theta":{"field":"from","type":"quantitative","stack":null,"scale":{"type":"linear","domain":[100,200,240,300],"range":[-1.5708,0,0.2793,1.5708],"zero":false,"nice":false}},"theta2":{"field":"to"},"color":{"field":"level","type":"nominal","scale":{"domain":["underweight","low","normal","overweight","high","obese","danger"],"range":["#FFD966","#FFC000","#00B050","#ED7D31","#ED7D31","#FF0000","#FF0000"]},"legend":null},"x":{"datum":53.5,"type":"quantitative","scale":{"domain":[0,100]},"axis":null},"y":{"datum":65.77,"type":"quantitative","scale":{"domain":[0,100],"reverse":true},"axis":null}}},
{"data":{"name":"gneedle"},"transform":[{"filter":"datum.gauge==='chol'"}],"mark":{"type":"arc","outerRadius":62,"innerRadius":0,"thetaOffset":-0.035,"theta2Offset":0.035,"color":"#000000"},"encoding":{"theta":{"field":"value","type":"quantitative","stack":null,"scale":{"type":"linear","domain":[100,200,240,300],"range":[-1.5708,0,0.2793,1.5708],"zero":false,"nice":false}},"theta2":{"field":"value"},"x":{"datum":53.5,"type":"quantitative","scale":{"domain":[0,100]},"axis":null},"y":{"datum":65.77,"type":"quantitative","scale":{"domain":[0,100],"reverse":true},"axis":null}}},
{"data":{"name":"gneedle"},"transform":[{"filter":"datum.gauge==='chol'"}],"mark":{"type":"text","radius":67,"dx":-9,"fontSize":8,"color":"#595959"},"encoding":{"theta":{"field":"value","type":"quantitative","stack":null,"scale":{"type":"linear","domain":[100,200,240,300],"range":[-1.5708,0,0.2793,1.5708],"zero":false,"nice":false}},"text":{"field":"label","type":"nominal"},"x":{"datum":53.5,"type":"quantitative","scale":{"domain":[0,100]},"axis":null},"y":{"datum":65.77,"type":"quantitative","scale":{"domain":[0,100],"reverse":true},"axis":null}}},
{"data":{"name":"gticks"},"transform":[{"filter":"datum.gauge==='chol'"}],"mark":{"type":"text","radius":65,"dx":7,"fontSize":8,"fontWeight":"bold","color":"#000000"},"encoding":{"theta":{"field":"value","type":"quantitative","stack":null,"scale":{"type":"linear","domain":[100,200,240,300],"range":[-1.5708,0,0.2793,1.5708],"zero":false,"nice":false}},"text":{"field":"label","type":"nominal"},"x":{"datum":53.5,"type":"quantitative","scale":{"domain":[0,100]},"axis":null},"y":{"datum":65.77,"type":"quantitative","scale":{"domain":[0,100],"reverse":true},"axis":null}}},
{"data":{"values":[{}]},"mark":{"type":"text","text":"میانگین کلسترول","fontSize":8.7,"fontWeight":"bold","color":"#000000"},"encoding":{"x":{"datum":50.3,"type":"quantitative","scale":{"domain":[0,100]},"axis":null},"y":{"datum":68.9,"type":"quantitative","scale":{"domain":[0,100],"reverse":true},"axis":null}}}
]},
{"layer":[
{"data":{"name":"gbands"},"transform":[{"filter":"datum.gauge==='trig'"}],"mark":{"type":"arc","outerRadius":60,"innerRadius":37},"encoding":{"theta":{"field":"from","type":"quantitative","stack":null,"scale":{"type":"linear","domain":[0,150,200,300],"range":[-1.5708,0,0.4712,1.5708],"zero":false,"nice":false}},"theta2":{"field":"to"},"color":{"field":"level","type":"nominal","scale":{"domain":["underweight","low","normal","overweight","high","obese","danger"],"range":["#FFD966","#FFC000","#00B050","#ED7D31","#ED7D31","#FF0000","#FF0000"]},"legend":null},"x":{"datum":52.3,"type":"quantitative","scale":{"domain":[0,100]},"axis":null},"y":{"datum":92.16,"type":"quantitative","scale":{"domain":[0,100],"reverse":true},"axis":null}}},
{"data":{"name":"gneedle"},"transform":[{"filter":"datum.gauge==='trig'"}],"mark":{"type":"arc","outerRadius":62,"innerRadius":0,"thetaOffset":-0.035,"theta2Offset":0.035,"color":"#000000"},"encoding":{"theta":{"field":"value","type":"quantitative","stack":null,"scale":{"type":"linear","domain":[0,150,200,300],"range":[-1.5708,0,0.4712,1.5708],"zero":false,"nice":false}},"theta2":{"field":"value"},"x":{"datum":52.3,"type":"quantitative","scale":{"domain":[0,100]},"axis":null},"y":{"datum":92.16,"type":"quantitative","scale":{"domain":[0,100],"reverse":true},"axis":null}}},
{"data":{"name":"gneedle"},"transform":[{"filter":"datum.gauge==='trig'"}],"mark":{"type":"text","radius":70,"dx":-4,"fontSize":8,"color":"#595959"},"encoding":{"theta":{"field":"value","type":"quantitative","stack":null,"scale":{"type":"linear","domain":[0,150,200,300],"range":[-1.5708,0,0.4712,1.5708],"zero":false,"nice":false}},"text":{"field":"label","type":"nominal"},"x":{"datum":52.3,"type":"quantitative","scale":{"domain":[0,100]},"axis":null},"y":{"datum":92.16,"type":"quantitative","scale":{"domain":[0,100],"reverse":true},"axis":null}}},
{"data":{"name":"gticks"},"transform":[{"filter":"datum.gauge==='trig'"}],"mark":{"type":"text","radius":63,"dx":7,"dy":2,"fontSize":8,"fontWeight":"bold","color":"#000000"},"encoding":{"theta":{"field":"value","type":"quantitative","stack":null,"scale":{"type":"linear","domain":[0,150,200,300],"range":[-1.5708,0,0.4712,1.5708],"zero":false,"nice":false}},"text":{"field":"label","type":"nominal"},"x":{"datum":52.3,"type":"quantitative","scale":{"domain":[0,100]},"axis":null},"y":{"datum":92.16,"type":"quantitative","scale":{"domain":[0,100],"reverse":true},"axis":null}}},
{"data":{"values":[{}]},"mark":{"type":"text","text":"میانگین تری گلیسرید","fontSize":8.7,"fontWeight":"bold","color":"#000000"},"encoding":{"x":{"datum":50.3,"type":"quantitative","scale":{"domain":[0,100]},"axis":null},"y":{"datum":97.3,"type":"quantitative","scale":{"domain":[0,100],"reverse":true},"axis":null}}}
]}
]}
],"spacing":5,"bounds":"flush","resolve":{"scale":{"color":"independent"}}}
]
}
